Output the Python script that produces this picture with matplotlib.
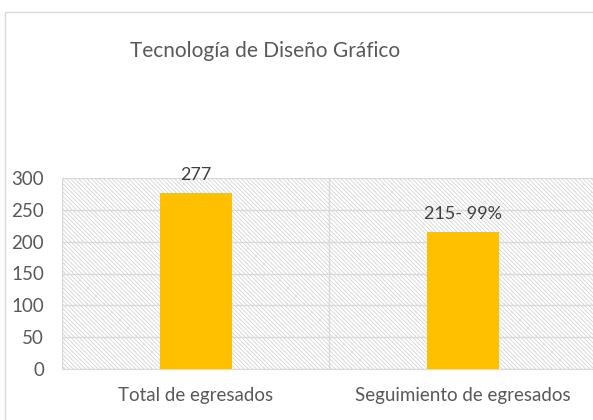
import matplotlib.pyplot as plt
from matplotlib.patches import Rectangle
import numpy as np

# data
categories = ['Total de egresados', 'Seguimiento de egresados']
values = [277, 215]
bar_labels = ['277', '215- 99%']
yticks = [0, 50, 100, 150, 200, 250, 300]

plt.rcParams['font.family'] = ['Lato', 'DejaVu Sans']
plt.rcParams['hatch.linewidth'] = 0.6

fig = plt.figure(figsize=(5.93, 4.2), dpi=100)

# chart border
fig.add_artist(Rectangle((5 / 593, -0.1), 1.2, 1.1 - 12 / 420, transform=fig.transFigure,
                         fill=False, edgecolor='#d9d9d9', linewidth=1))

ax = fig.add_axes([62 / 593, 1 - 369 / 420, 534.5 / 593, 191 / 420])

# hatched plot background
ax.add_patch(Rectangle((0, 0), 1, 1, transform=ax.transAxes, facecolor='white',
                       edgecolor='#d4d4d4', hatch='\\' * 8, linewidth=0, zorder=0))

x = np.arange(len(categories))
ax.bar(x, values, width=0.27, color='#FFC000', zorder=3)

for xi, v, lab in zip(x, values, bar_labels):
    ax.annotate(lab, (xi, v), xytext=(0, 7), textcoords='offset points',
                ha='center', va='bottom', fontsize=13, color='#404040')

ax.set_xlim(-0.5, 1.5)
ax.set_ylim(0, 300)
ax.set_yticks(yticks)
ax.set_xticks(x)
ax.set_xticklabels(categories)
ax.set_xticks([-0.5, 0.5, 1.5], minor=True)
ax.grid(axis='y', color='#d9d9d9', linewidth=1, zorder=1)
ax.grid(axis='x', which='minor', color='#d9d9d9', linewidth=1, zorder=1)
ax.grid(axis='x', which='major', visible=False)
ax.tick_params(axis='both', which='both', length=0, labelsize=13.5, labelcolor='#595959')
ax.tick_params(axis='x', pad=13)
ax.tick_params(axis='y', pad=13)
for s in ['top', 'right', 'left']:
    ax.spines[s].set_visible(False)
ax.spines['bottom'].set_color('#d9d9d9')
ax.set_axisbelow(True)

fig.text(265 / 593, 1 - 57 / 420, 'Tecnología de Diseño Gráfico', ha='center', va='baseline',
         fontsize=15, color='#595959')

plt.savefig('out.png', dpi=100)
plt.close()
